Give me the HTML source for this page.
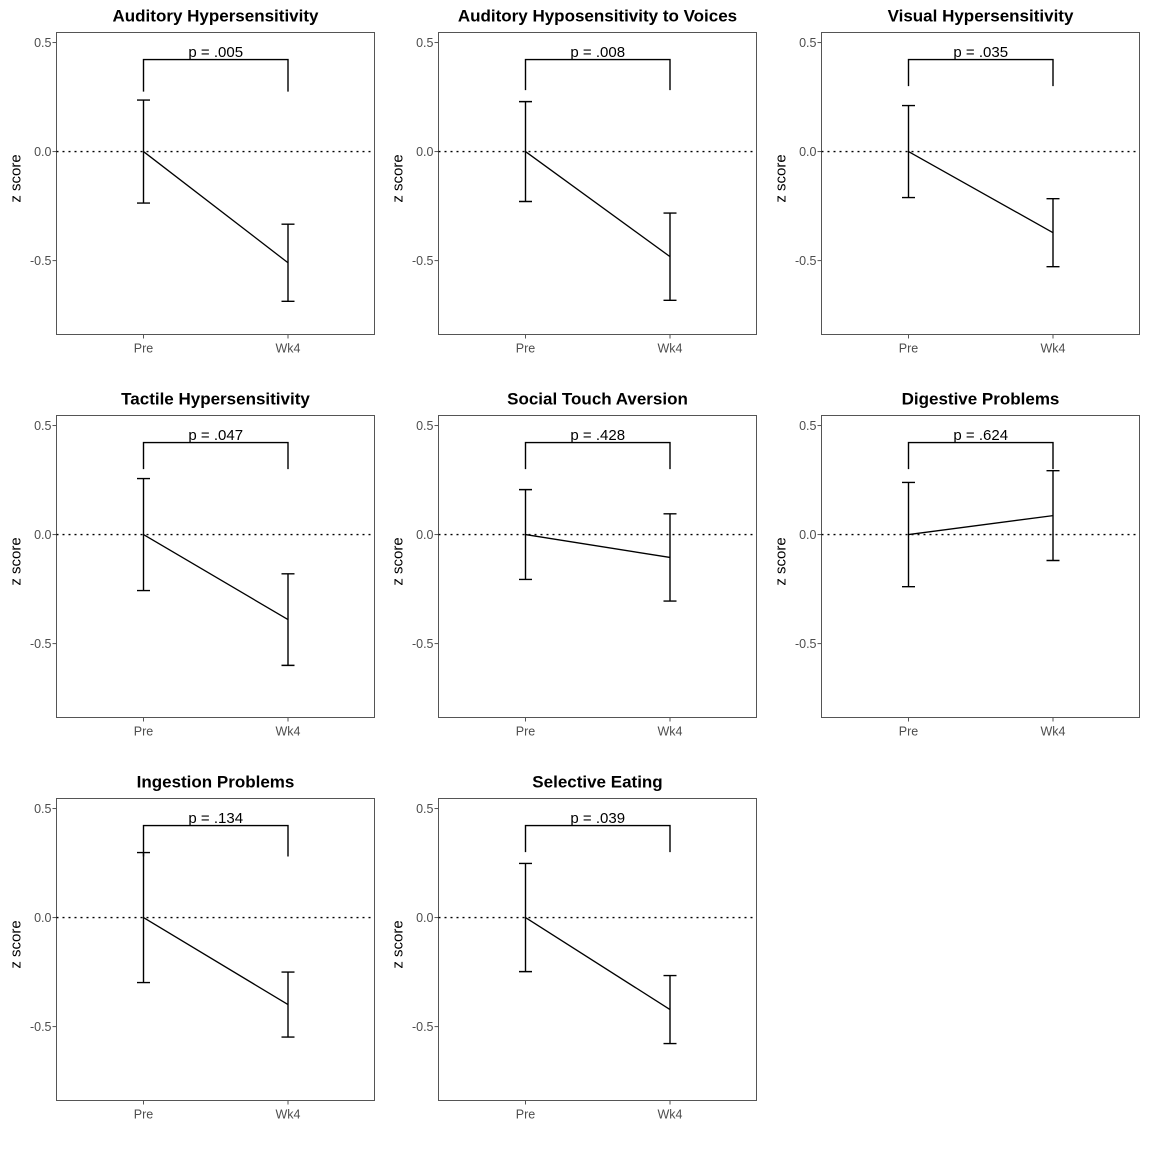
<!DOCTYPE html>
<html><head><meta charset="utf-8"><style>
body{margin:0;background:#fff;}
svg{display:block;font-family:"Liberation Sans",Arial,sans-serif;}
</style></head><body>
<svg id="chart" width="1149" height="1149" viewBox="0 0 1149 1149"></svg>
<script>
const titles = ["Auditory Hypersensitivity","Auditory Hyposensitivity to Voices","Visual Hypersensitivity","Tactile Hypersensitivity","Social Touch Aversion","Digestive Problems","Ingestion Problems","Selective Eating"];
const pLabels = ["p = .005","p = .008","p = .035","p = .047","p = .428","p = .624","p = .134","p = .039"];
const categories = ["Pre","Wk4"];
const preMeans = [0,0,0,0,0,0,0,0];
const preErr = [0.236,0.229,0.211,0.257,0.206,0.239,0.298,0.248];
const wk4Means = [-0.51,-0.482,-0.372,-0.39,-0.105,0.087,-0.399,-0.422];
const wk4Err = [0.177,0.2,0.156,0.21,0.2,0.206,0.149,0.156];
const bracketTop = [0.422,0.422,0.422,0.422,0.422,0.422,0.422,0.422];
const bracketEnd = [0.275,0.282,0.3,0.3,0.3,0.3,0.28,0.3];
const yTicks = [0.5,0,-0.5];
const yTickLabels = ["0.5","0.0","-0.5"];

const svg = document.getElementById('chart');
const NS = 'http://www.w3.org/2000/svg';
function mk(tag, attrs, parent){const e=document.createElementNS(NS,tag);for(const k in attrs)e.setAttribute(k,attrs[k]);parent.appendChild(e);return e;}
const colX=[56.5,438.5,821.5], rowY=[32.5,415.5,798.5], W=318, H=302;
const yMax=0.546, yMin=-0.839;
titles.forEach((t,i)=>{
  const L=colX[i%3], T=rowY[Math.floor(i/3)];
  const g=mk('g',{},svg);
  
  
  const y=v=>T+(yMax-v)/(yMax-yMin)*H;
  const x=c=>L+(c===0?87:231.5);
  const title=mk('text',{x:L+W/2,y:T-11,'text-anchor':'middle','font-size':'17','font-weight':'bold'},g);
  title.textContent=t;
  
  
  const frame=mk('rect',{x:L,y:T,width:W,height:H,fill:'none',stroke:'#555','stroke-width':1},g);
  
  
  yTicks.forEach((v,k)=>{
    mk('line',{x1:L-4,x2:L,y1:y(v),y2:y(v),stroke:'#555'},g);
    const tl=mk('text',{x:L-5,y:y(v)+4.5,'text-anchor':'end','font-size':'12.5',fill:'#4d4d4d'},g);
    tl.textContent=yTickLabels[k];
    
    
  });
  categories.forEach((c,k)=>{
    mk('line',{x1:x(k),x2:x(k),y1:T+H,y2:T+H+4,stroke:'#555'},g);
    const xl=mk('text',{x:x(k),y:T+H+18,'text-anchor':'middle','font-size':'12.5',fill:'#4d4d4d'},g);
    xl.textContent=c;
    
    
  });
  const yt=mk('text',{x:0,y:0,'text-anchor':'middle','font-size':'15',transform:`translate(${L-36},${T+H/2-5}) rotate(-90)`},g);
  yt.textContent='z score';
  
  
  const zl=mk('line',{x1:L,x2:L+W,y1:y(0),y2:y(0),stroke:'#000','stroke-dasharray':'2,4','stroke-width':1.3},g);
  
  
  const means=[preMeans[i],wk4Means[i]], errs=[preErr[i],wk4Err[i]];
  const ln=mk('line',{x1:x(0),y1:y(means[0]),x2:x(1),y2:y(means[1]),stroke:'#000','stroke-width':1.3},g);
  
  
  [0,1].forEach(k=>{
    const eb=mk('path',{d:`M${x(k)-6.5},${y(means[k]+errs[k])}H${x(k)+6.5}M${x(k)},${y(means[k]+errs[k])}V${y(means[k]-errs[k])}M${x(k)-6.5},${y(means[k]-errs[k])}H${x(k)+6.5}`,stroke:'#000','stroke-width':1.4,fill:'none'},g);
    
    
  });
  const br=mk('path',{d:`M${x(0)},${y(bracketEnd[i])}V${y(bracketTop[i])}H${x(1)}V${y(bracketEnd[i])}`,stroke:'#000','stroke-width':1.4,fill:'none'},g);
  
  
  const pt=mk('text',{x:(x(0)+x(1))/2,y:y(bracketTop[i])-2.5,'text-anchor':'middle','font-size':'15'},g);
  pt.textContent=pLabels[i];
  
  
});
</script>
</body></html>
